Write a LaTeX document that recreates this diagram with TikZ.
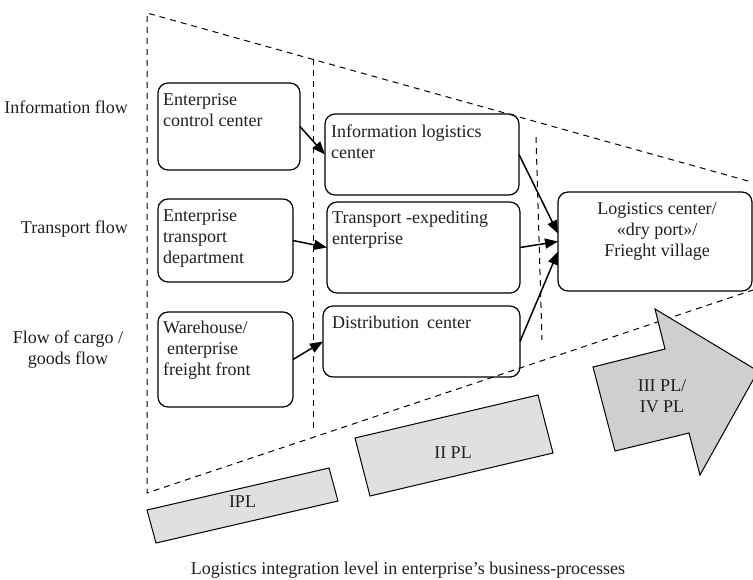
\documentclass[tikz,border=0pt]{standalone}
\usepackage{fontspec}
\setmainfont{Liberation Serif}
\usetikzlibrary{arrows.meta}
\begin{document}
\begin{tikzpicture}[x=1pt,y=-1pt,
  every node/.style={font=\fontsize{18}{21}\selectfont, text=black!88},
  box/.style={draw, line width=1.2pt, rounded corners=10pt, inner sep=0pt, outer sep=0pt},
  lbl/.style={inner sep=0pt, anchor=base west},
  conn/.style={line width=1.5pt, -{Triangle[length=13pt,width=10pt]}},
  dsh/.style={line width=1pt, dash pattern=on 6pt off 5pt},
  band/.style={draw, line width=1pt, fill=black!12},
  bigarrow/.style={draw, line width=1pt, fill=black!19},
]
\useasboundingbox (0,0) rectangle (753,579);

% dashed frame
\coordinate (tl) at (147,13);
\coordinate (tr) at (748,181);
\coordinate (bl) at (147,493);
\coordinate (br) at (753,290);
\draw[dsh] (tr) -- (tl) -- (bl) -- (br);
\coordinate (v1a) at (313,59);
\coordinate (v1b) at (313,428);
\coordinate (v2a) at (536,137);
\coordinate (v2b) at (542,340);
\draw[dsh] (v1a) -- (v1b);
\draw[dsh] (v2a) -- (v2b);

% level bands
\draw[band] (147,510) -- (329,468) -- (338,501) -- (156,543) -- cycle;
\node[inner sep=0pt, anchor=base] (ipl) at (242.5,507.5) {IPL};
\draw[band] (355,438) -- (538,395) -- (553,453) -- (370,496) -- cycle;
\node[inner sep=0pt, anchor=base] (iipl) at (453,458) {II PL};
\draw[bigarrow] (593,367) -- (665,349) -- (655,309) -- (758,371) -- (700,475) -- (689,433) -- (615,451) -- cycle;
\node[inner sep=0pt, anchor=base, align=center] (iiipl) at (662,412) {III PL/\\IV PL};

% boxes
\node[box, minimum width=142pt, minimum height=87pt] (ecc) at (229,126.5) {};
\node[box, minimum width=135pt, minimum height=83pt] (etd) at (225.5,240.5) {};
\node[box, minimum width=135pt, minimum height=95pt] (wef) at (225.5,359.5) {};
\node[box, minimum width=194pt, minimum height=81pt] (ilc) at (422,154.5) {};
\node[box, minimum width=193pt, minimum height=91pt] (tee) at (423.5,247.5) {};
\node[box, minimum width=197pt, minimum height=71pt] (dc) at (421.5,341.5) {};
\node[box, minimum width=194pt, minimum height=99pt] (lc) at (655,241.5) {};

% box texts
\node[lbl] (ecct) at ([shift={(5pt,-22pt)}]ecc.north west) {\parbox[t]{135pt}{\raggedright Enterprise\\control center}};
\node[lbl] (etdt) at ([shift={(5pt,-22pt)}]etd.north west) {\parbox[t]{130pt}{\raggedright Enterprise\\transport\\department}};
\node[lbl] (weft) at ([shift={(5pt,-21pt)}]wef.north west) {\parbox[t]{130pt}{\raggedright Warehouse/\\\hspace*{4pt}enterprise\\freight front}};
\node[lbl] (ilct) at ([shift={(6pt,-23pt)}]ilc.north west) {\parbox[t]{188pt}{\raggedright Information logistics\\center}};
\node[lbl] (teet) at ([shift={(5pt,-21pt)}]tee.north west) {\parbox[t]{188pt}{\raggedright Transport -expediting\\enterprise}};
\node[lbl] (dct) at ([shift={(9pt,-22pt)}]dc.north west) {\parbox[t]{188pt}{\raggedright Distribution\hspace{8pt}center}};
\node[inner sep=0pt, anchor=base] (lct) at ([shift={(2pt,-22pt)}]lc.north) {\parbox[t]{190pt}{\centering Logistics center/\\«dry port»/\\Frieght village}};

% connectors
\draw[conn] (ecc.east) -- (ilc.west);
\draw[conn] (etd.east) -- (tee.west);
\draw[conn] (wef.east) -- (dc.west);
\draw[conn] (ilc.east) -- ([yshift=8pt]lc.west);
\draw[conn] (tee.east) -- (lc.west);
\draw[conn] (dc.east) -- ([yshift=-10pt]lc.west);

% side labels
\node[inner sep=0pt, anchor=base east] (inf) at (128,113) {Information flow};
\node[inner sep=0pt, anchor=base east] (trf) at (128,233) {Transport flow};
\node[inner sep=0pt, anchor=base, align=center] (cgf) at (68,364) {Flow of cargo /\\goods flow};

% caption
\node[inner sep=0pt, anchor=base] (cap) at (408,574) {Logistics integration level in enterprise’s business-processes};
\end{tikzpicture}
\end{document}
